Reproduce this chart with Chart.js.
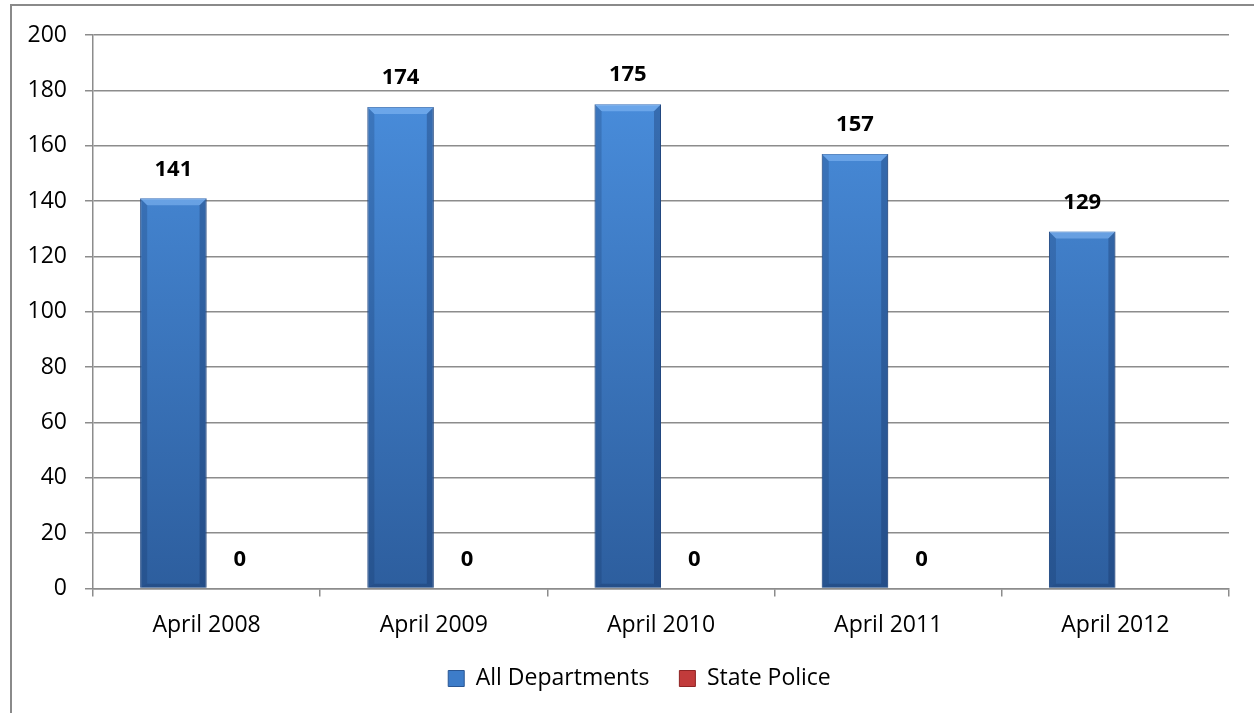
<!DOCTYPE html>
<html>
<head>
<meta charset="utf-8">
<script src="https://cdn.jsdelivr.net/npm/chart.js@4.4.1/dist/chart.umd.min.js"></script>
<style>
  html, body { margin: 0; padding: 0; background: #fff; }
  #wrap { width: 1254px; height: 713px; position: relative; }
</style>
</head>
<body>
<div id="wrap"><canvas id="myChart"></canvas></div>
<script>
const labels = ["April 2008", "April 2009", "April 2010", "April 2011", "April 2012"];
const allDepartments = [141, 174, 175, 157, 129];
const statePolice = [0, 0, 0, 0, null];
const yMin = 0;
const yMax = 200;
const yStep = 20;

const FONT = "'Open Sans', 'Liberation Sans', sans-serif";
const GRID = "#8c8c8c";

// vertical gradient over the plot area
const barFill = (top, bottom) => (ctx) => {
  const area = ctx.chart.chartArea;
  if (!area) return bottom;
  const g = ctx.chart.ctx.createLinearGradient(0, area.top, 0, area.bottom);
  g.addColorStop(0, top);
  g.addColorStop(1, bottom);
  return g;
};

// outer frame (left + top only visible in the picture)
const framePlugin = {
  id: "frame",
  beforeDraw(chart) {
    const c = chart.ctx;
    c.save();
    c.strokeStyle = "#8a8a8a";
    c.lineWidth = 2;
    c.beginPath();
    c.moveTo(11, chart.height);
    c.lineTo(11, 5);
    c.lineTo(chart.width, 5);
    c.stroke();
    c.restore();
  },
};

// bevel shading on the bars
const bevelPlugin = {
  id: "bevel",
  afterDatasetsDraw(chart) {
    const c = chart.ctx;
    chart.data.datasets.forEach((ds, di) => {
      const meta = chart.getDatasetMeta(di);
      meta.data.forEach((bar, i) => {
        if (!ds.data[i]) return;
        const { x, y, base, width } = bar.getProps(["x", "y", "base", "width"], true);
        const L = x - width / 2, R = x + width / 2, e = 7;
        c.save();
        // top highlight
        c.fillStyle = "rgba(150,200,255,0.45)";
        c.beginPath();
        c.moveTo(L, y); c.lineTo(R, y); c.lineTo(R - e, y + e); c.lineTo(L + e, y + e);
        c.closePath(); c.fill();
        // left edge
        c.fillStyle = "rgba(20,45,90,0.22)";
        c.beginPath();
        c.moveTo(L, y); c.lineTo(L + e, y + e); c.lineTo(L + e, base - 4); c.lineTo(L, base);
        c.closePath(); c.fill();
        // right edge
        c.fillStyle = "rgba(20,45,90,0.32)";
        c.beginPath();
        c.moveTo(R, y); c.lineTo(R - e, y + e); c.lineTo(R - e, base - 4); c.lineTo(R, base);
        c.closePath(); c.fill();
        // bottom
        c.fillStyle = "rgba(20,45,90,0.3)";
        c.beginPath();
        c.moveTo(L, base); c.lineTo(L + e, base - 4); c.lineTo(R - e, base - 4); c.lineTo(R, base);
        c.closePath(); c.fill();
        c.restore();
      });
    });
  },
};

// value labels above bars
const valueLabels = {
  id: "valueLabels",
  afterDatasetsDraw(chart) {
    const c = chart.ctx;
    c.save();
    c.font = "bold 22px " + FONT;
    c.fillStyle = "#000";
    c.textAlign = "center";
    c.textBaseline = "middle";
    chart.data.datasets.forEach((ds, di) => {
      chart.getDatasetMeta(di).data.forEach((bar, i) => {
        const v = ds.data[i];
        if (v === null || v === undefined) return;
        c.fillText(String(v), bar.x, bar.y - 29);
      });
    });
    c.restore();
  },
};

// legend box sizing / placement
const legendSpace = {
  id: "legendSpace",
  beforeInit(chart) {
    const fit = chart.legend.fit;
    chart.legend.fit = function () {
      fit.call(this);
      this.height -= 4;
    };
  },
  afterLayout(chart) {
    const lg = chart.legend;
    lg.top -= 17;
    lg.bottom -= 17;
    lg.left += 25;
    lg.right += 25;
  },
};

const makeGraph = () => {
  const chart_ctx = document.getElementById("myChart");
  const data = {
    labels: labels,
    datasets: [
      {
        label: "All Departments",
        data: allDepartments,
        backgroundColor: barFill("#4c92e2", "#2d5e9e"),
        borderColor: "#2a5693",
        borderWidth: 1,
        legendColor: "#3d7cc9",
      },
      {
        label: "State Police",
        data: statePolice,
        backgroundColor: barFill("#da4a4a", "#a02a2a"),
        borderColor: "#8f2424",
        borderWidth: 1,
        legendColor: "#c23b3b",
      },
    ],
  };
  const config = {
    type: "bar",
    data,
    plugins: [framePlugin, bevelPlugin, valueLabels, legendSpace],
    options: {
      responsive: true,
      maintainAspectRatio: false,
      animation: false,
      categoryPercentage: 0.585,
      barPercentage: 1,
      layout: { padding: { top: 35, right: 25, left: 0, bottom: 0 } },
      plugins: {
        tooltip: { enabled: false },
        legend: {
          position: "bottom",
          labels: {
            font: { family: FONT, size: 23 },
            color: "#000",
            boxWidth: 16,
            boxHeight: 16,
            padding: 30,
            generateLabels(chart) {
              return chart.data.datasets.map((ds, i) => ({
                text: ds.label,
                fillStyle: ds.legendColor,
                strokeStyle: ds.borderColor,
                lineWidth: 1,
                hidden: false,
                datasetIndex: i,
              }));
            },
          },
        },
      },
      scales: {
        x: {
          grid: {
            drawOnChartArea: false,
            drawTicks: true,
            tickLength: 8,
            color: GRID,
            lineWidth: 1.5,
          },
          border: { display: true, color: GRID, width: 1.5 },
          ticks: {
            font: { family: FONT, size: 23 },
            color: "#000",
            padding: 15,
            maxRotation: 0,
          },
        },
        y: {
          min: yMin,
          max: yMax,
          afterFit(scale) { scale.width = 93; },
          grid: {
            color: GRID,
            lineWidth: 1.5,
            tickLength: 8,
          },
          border: { display: true, color: GRID, width: 1.5 },
          ticks: {
            stepSize: yStep,
            font: { family: FONT, size: 23 },
            color: "#000",
            padding: 18,
          },
        },
      },
    },
  };
  return new Chart(chart_ctx, config);
};

makeGraph();
</script>
</body>
</html>
